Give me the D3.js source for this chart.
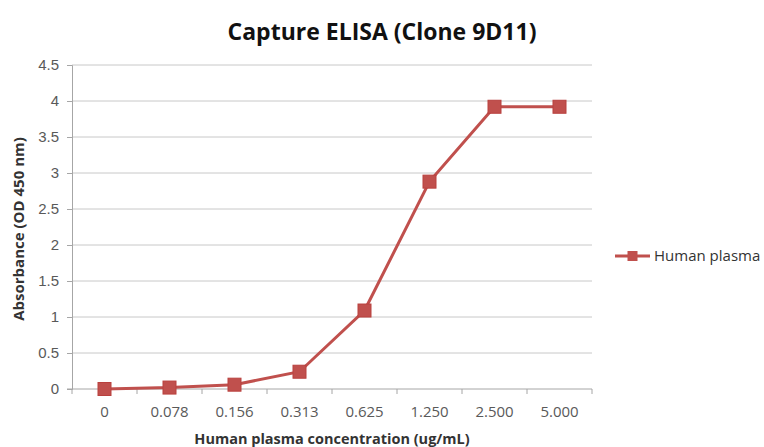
<!DOCTYPE html>
<html>
<head>
<meta charset="utf-8">
<script src="https://cdn.jsdelivr.net/npm/d3@7"></script>
<style>
  body { margin: 0; background: #fff; }
  svg { font-family: "Open Sans", "Liberation Sans", sans-serif; }
</style>
</head>
<body>
<svg id="chart" width="764" height="447"></svg>
<script>
const concentrations = ["0", "0.078", "0.156", "0.313", "0.625", "1.250", "2.500", "5.000"];
const absorbance = [0.0, 0.02, 0.06, 0.24, 1.09, 2.88, 3.92, 3.92];
const yTicks = [0, 0.5, 1, 1.5, 2, 2.5, 3, 3.5, 4, 4.5];
const seriesName = "Human plasma";

const svg = d3.select("#chart");
const margin = {left: 72, right: 172, top: 65, bottom: 58};
const W = 764, H = 447;
const color = "#c0504d";

const x = d3.scaleBand()
    .domain(concentrations)
    .range([margin.left, W - margin.right]);

const y = d3.scaleLinear()
    .domain([0, 4.5])
    .range([H - margin.bottom, margin.top]);

// gridlines
svg.append("g")
    .selectAll("line")
    .data(yTicks.slice(1))
    .join("line")
    .attr("x1", margin.left)
    .attr("x2", W - margin.right)
    .attr("y1", d => y(d))
    .attr("y2", d => y(d))
    .attr("stroke", "#c8c8c8")
    .attr("stroke-width", 1);

// y axis
const yAxis = svg.append("g")
    .attr("transform", `translate(${margin.left},0)`)
    .call(d3.axisLeft(y).tickValues(yTicks).tickSize(5).tickPadding(8)
        .tickFormat(d => d3.format("")(d)));
yAxis.selectAll("path, line").attr("stroke", "#a6a6a6");
yAxis.selectAll("text").attr("fill", "#595959").style("font-size", "15px");

// x axis with ticks at band boundaries
const xAxisG = svg.append("g")
    .attr("transform", `translate(0,${y(0)})`);
xAxisG.append("line")
    .attr("x1", margin.left - 5)
    .attr("x2", W - margin.right)
    .attr("stroke", "#a6a6a6");
const bounds = concentrations.map(c => x(c)).concat([x(concentrations[concentrations.length - 1]) + x.bandwidth()]);
xAxisG.selectAll(".tk")
    .data(bounds)
    .join("line")
    .attr("class", "tk")
    .attr("x1", d => d).attr("x2", d => d)
    .attr("y1", 0).attr("y2", 5)
    .attr("stroke", "#a6a6a6");
xAxisG.selectAll(".lbl")
    .data(concentrations)
    .join("text")
    .attr("class", "lbl")
    .attr("x", d => x(d) + x.bandwidth() / 2)
    .attr("y", 28)
    .attr("text-anchor", "middle")
    .attr("fill", "#595959")
    .style("font-size", "15px")
    .text(d => d);

// line + markers
const pts = concentrations.map((c, i) => ({c, v: absorbance[i]}));
const line = d3.line()
    .x(d => x(d.c) + x.bandwidth() / 2)
    .y(d => y(d.v));

svg.append("path")
    .datum(pts)
    .attr("d", line)
    .attr("fill", "none")
    .attr("stroke", color)
    .attr("stroke-width", 3);

const ms = 13;
svg.append("g")
    .selectAll("rect")
    .data(pts)
    .join("rect")
    .attr("x", d => x(d.c) + x.bandwidth() / 2 - ms / 2)
    .attr("y", d => y(d.v) - ms / 2)
    .attr("width", ms)
    .attr("height", ms)
    .attr("fill", color)
    .attr("stroke", "#b9413e")
    .attr("stroke-width", 1);

// title
svg.append("text")
    .attr("x", 382)
    .attr("y", 40)
    .attr("text-anchor", "middle")
    .attr("fill", "#111")
    .style("font-size", "23px")
    .style("font-weight", "bold")
    .text("Capture ELISA (Clone 9D11)");

// axis titles
svg.append("text")
    .attr("transform", `translate(24,229) rotate(-90)`)
    .attr("text-anchor", "middle")
    .attr("fill", "#333")
    .style("font-size", "15px")
    .style("font-weight", "bold")
    .text("Absorbance (OD 450 nm)");

svg.append("text")
    .attr("x", 332)
    .attr("y", 444)
    .attr("text-anchor", "middle")
    .attr("fill", "#333")
    .style("font-size", "14.5px")
    .style("font-weight", "bold")
    .text("Human plasma concentration (ug/mL)");

// legend
const lg = svg.append("g").attr("transform", "translate(615,256)");
lg.append("line").attr("x1", 0).attr("x2", 35).attr("stroke", color).attr("stroke-width", 3);
lg.append("rect").attr("x", 17.5 - 5).attr("y", -5).attr("width", 10).attr("height", 10).attr("fill", color);
lg.append("text").attr("x", 39).attr("y", 5)
    .attr("fill", "#333").style("font-size", "15px").text(seriesName);
</script>
</body>
</html>
